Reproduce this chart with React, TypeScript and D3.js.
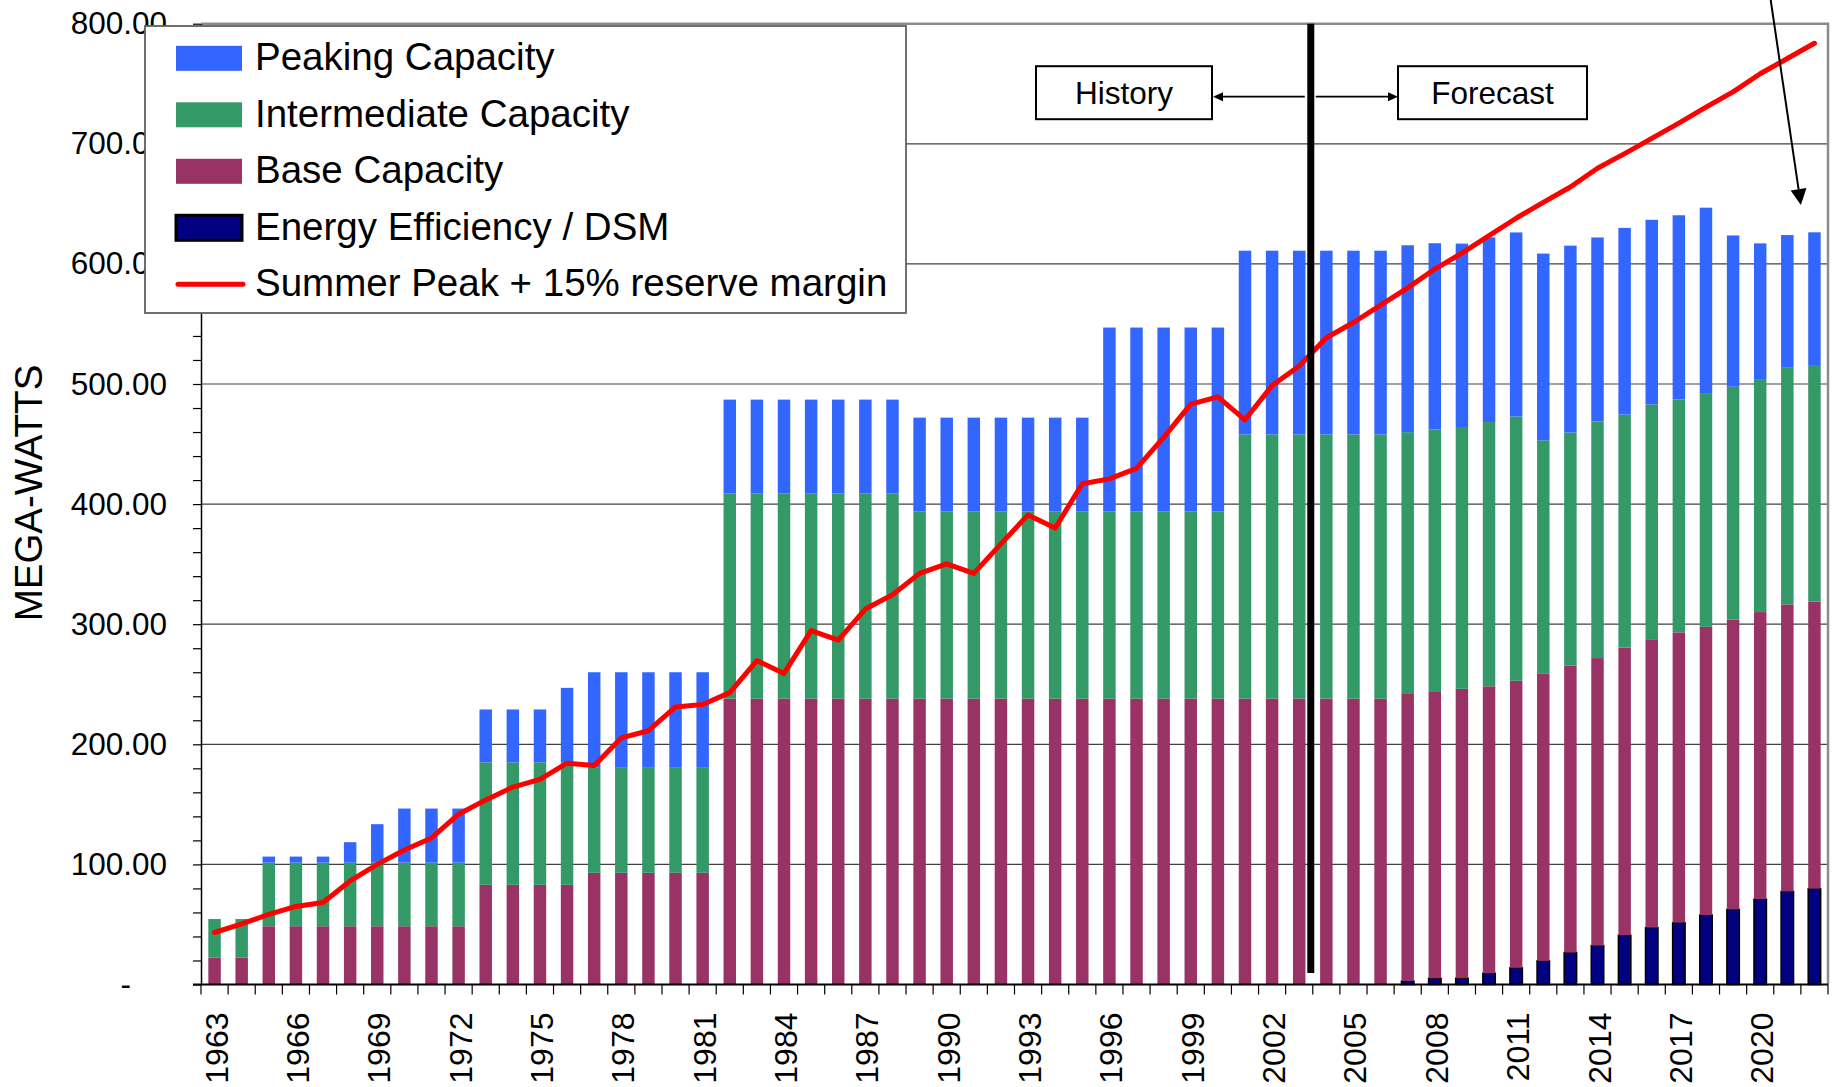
import React, { useEffect, useRef } from 'react';
import * as d3 from 'd3';

// categories
const years = [
  '1963', '1964', '1965', '1966', '1967', '1968', '1969', '1970', '1971', '1972',
  '1973', '1974', '1975', '1976', '1977', '1978', '1979', '1980', '1981', '1982',
  '1983', '1984', '1985', '1986', '1987', '1988', '1989', '1990', '1991', '1992',
  '1993', '1994', '1995', '1996', '1997', '1998', '1999', '2000', '2001', '2002',
  '2003', '2004', '2005', '2006', '2007', '2008', '2009', '2010', '2011', '2012',
  '2013', '2014', '2015', '2016', '2017', '2018', '2019', '2020', '2021', '2022'
];

// stacked segments, MW (bottom to top)
const dsm = [
  0, 0, 0, 0, 0, 0, 0, 0, 0, 0,
  0, 0, 0, 0, 0, 0, 0, 0, 0, 0,
  0, 0, 0, 0, 0, 0, 0, 0, 0, 0,
  0, 0, 0, 0, 0, 0, 0, 0, 0, 0,
  0, 0, 0, 0, 2.9, 5.2, 5.2, 9.3, 13.9, 19.7,
  26.6, 32.4, 41, 47.4, 51.5, 57.8, 62.5, 71.1, 77.5, 79.8
];
const base = [
  22.5, 22.5, 48.5, 48.5, 48.5, 48.5, 48.5, 48.5, 48.5, 48.5,
  83, 83, 83, 83, 93, 93, 93, 93, 93, 238,
  238, 238, 238, 238, 238, 238, 238, 238, 238, 238,
  238, 238, 238, 238, 238, 238, 238, 238, 238, 238,
  238, 238, 238, 238, 239, 239, 241, 239, 239, 239.4,
  239, 239.4, 239.5, 239.5, 241.7, 240, 241.2, 239, 239, 239
];
const intermediate = [
  32, 32, 53, 53, 53, 53, 53, 53, 53, 53,
  102, 102, 102, 102, 88, 88, 88, 88, 88, 171,
  171, 171, 171, 171, 171, 171, 156, 156, 156, 156,
  156, 156, 156, 156, 156, 156, 156, 156, 220, 220,
  220, 220, 220, 220, 218, 218, 218, 220, 220, 194,
  194, 197, 194, 196, 194, 194, 194, 194, 197, 197
];
const peaking = [
  0, 0, 5, 5, 5, 17, 32, 45, 45, 45,
  44, 44, 44, 62, 79, 79, 79, 79, 79, 78,
  78, 78, 78, 78, 78, 78, 78, 78, 78, 78,
  78, 78, 78, 153, 153, 153, 153, 153, 153, 153,
  153, 153, 153, 153, 155.6, 155, 152.7, 153.8, 153.3, 155.5,
  155.6, 153.2, 155.5, 153.8, 153.3, 155, 126, 113, 110.5, 110.5
];
// Summer Peak + 15% reserve margin
const summerPeak = [
  43.3, 50.4, 58.4, 65, 68.3, 86.2, 100, 112, 122, 141.8,
  153.7, 164.4, 170.8, 184.3, 182.3, 205.3, 211.3, 231.1, 233.1, 243,
  269.7, 259, 294.7, 286.8, 312.6, 324.5, 342.3, 350.3, 342.3, 366.9,
  391, 380, 417, 421, 429.7, 455.5, 483.3, 489.3, 470.2, 498.7,
  515, 538.5, 551.2, 565.6, 580, 595.7, 609, 623.5, 638, 651.3,
  664, 679.6, 691.8, 704.5, 717.2, 730.5, 743.2, 758.3, 771, 783.7
];

const yMajorTicks = [0, 100, 200, 300, 400, 500, 600, 700, 800];
const xTickLabels = [
  '1963', '1966', '1969', '1972', '1975', '1978', '1981', '1984', '1987', '1990',
  '1993', '1996', '1999', '2002', '2005', '2008', '2011', '2014', '2017', '2020'
];

const seriesNames = ['Peaking Capacity', 'Intermediate Capacity', 'Base Capacity', 'Energy Efficiency / DSM'];
const lineName = 'Summer Peak + 15% reserve margin';
const forecastStart = '2004';

const colors: { [k: string]: string } = {
  peaking: '#3366FF',
  intermediate: '#339966',
  base: '#993366',
  dsm: '#000080',
  line: '#FF0000'
};

const FONT = '"Liberation Sans", Arial, sans-serif';

export default function App() {
  const ref = useRef<SVGSVGElement>(null);

  useEffect(() => {
    const svg = d3.select(ref.current);
    svg.selectAll('*').remove();

    const left = 201, right = 1828, top = 23.7, bottom = 984.5;

    const x = d3.scaleBand<string>().domain(years).range([left, right]).paddingInner(0.54).paddingOuter(0.27);
    const y = d3.scaleLinear().domain([0, 800]).range([bottom, top]);
    const step = x.step();
    const bw = x.bandwidth();

    const rows = years.map((yr, i) => ({
      year: yr, dsm: dsm[i], base: base[i], intermediate: intermediate[i], peaking: peaking[i]
    }));
    const stack = d3.stack<any>().keys(['dsm', 'base', 'intermediate', 'peaking']);
    const layers = stack(rows);

    // gridlines
    svg.append('g')
      .selectAll('line')
      .data(yMajorTicks.filter(d => d > 0 && d < 800))
      .enter().append('line')
      .attr('x1', left).attr('x2', right)
      .attr('y1', d => y(d)).attr('y2', d => y(d))
      .attr('stroke', '#404040')
      .attr('stroke-width', 1.2);

    // bars
    layers.forEach(layer => {
      const key = layer.key;
      svg.append('g')
        .selectAll('rect')
        .data(layer.filter(d => d[1] - d[0] > 0))
        .enter().append('rect')
        .attr('x', d => x(d.data.year) as number)
        .attr('width', bw)
        .attr('y', d => y(d[1]))
        .attr('height', d => y(d[0]) - y(d[1]))
        .attr('fill', colors[key])
        .attr('stroke', key === 'dsm' ? '#000' : 'none')
        .attr('stroke-width', key === 'dsm' ? 1.5 : 0);
    });

    // plot border top / right
    svg.append('path')
      .attr('d', `M${left},${top}H${right}V${bottom}`)
      .attr('fill', 'none')
      .attr('stroke', '#8c8c8c')
      .attr('stroke-width', 2.5);

    // y axis
    const yAxis = d3.axisLeft(y)
      .tickValues(d3.range(0, 801, 20))
      .tickSize(8)
      .tickSizeOuter(0)
      .tickPadding(26)
      .tickFormat((d: any) => (d === 0 ? '-' : d % 100 === 0 ? d3.format('.2f')(d) : ''));
    const gy = svg.append('g').attr('transform', `translate(${left},0)`).call(yAxis as any);
    gy.select('.domain').attr('stroke', '#000').attr('stroke-width', 1.5);
    gy.selectAll('line').attr('stroke', '#000').attr('stroke-width', 1.2);
    gy.selectAll('text')
      .attr('font-family', FONT)
      .attr('font-size', 31.5)
      .attr('fill', '#000')
      .attr('x', (d: any) => (d === 0 ? -70 : -34));

    // x axis
    svg.append('line')
      .attr('x1', left - 8).attr('x2', right)
      .attr('y1', bottom).attr('y2', bottom)
      .attr('stroke', '#000').attr('stroke-width', 2);
    svg.append('g')
      .selectAll('line')
      .data(years.concat(['end']))
      .enter().append('line')
      .attr('x1', (d, i) => left + i * step)
      .attr('x2', (d, i) => left + i * step)
      .attr('y1', bottom).attr('y2', bottom + 10)
      .attr('stroke', '#000').attr('stroke-width', 1.2);
    svg.append('g')
      .selectAll('text')
      .data(xTickLabels)
      .enter().append('text')
      .attr('transform', d => `translate(${(x(d) as number) + bw / 2 + 13},${bottom + 28}) rotate(-90)`)
      .attr('text-anchor', 'end')
      .attr('font-family', FONT)
      .attr('font-size', 32)
      .text(d => d);

    // y axis title
    svg.append('text')
      .attr('transform', `translate(42,493) rotate(-90)`)
      .attr('text-anchor', 'middle')
      .attr('font-family', FONT)
      .attr('font-size', 38.5)
      .text('MEGA-WATTS');

    // summer peak line
    const line = d3.line<number>()
      .x((d, i) => (x(years[i]) as number) + bw / 2)
      .y(d => y(d));
    svg.append('path')
      .datum(summerPeak)
      .attr('d', line)
      .attr('fill', 'none')
      .attr('stroke', colors.line)
      .attr('stroke-width', 5)
      .attr('stroke-linejoin', 'round')
      .attr('stroke-linecap', 'round');

    // history / forecast divider
    const vx = left + years.indexOf(forecastStart) * step - 2;
    svg.append('line')
      .attr('x1', vx).attr('x2', vx)
      .attr('y1', top).attr('y2', 973)
      .attr('stroke', '#000').attr('stroke-width', 7);

    const ay = 96.7;
    const boxH = 53;
    const boxes = [
      { label: 'History', x0: 1036, w: 176 },
      { label: 'Forecast', x0: 1398, w: 189 }
    ];
    boxes.forEach(b => {
      svg.append('rect')
        .attr('x', b.x0).attr('y', ay - boxH / 2 - 4)
        .attr('width', b.w).attr('height', boxH)
        .attr('fill', '#fff').attr('stroke', '#000').attr('stroke-width', 2);
      svg.append('text')
        .attr('x', b.x0 + b.w / 2).attr('y', ay + 7)
        .attr('text-anchor', 'middle')
        .attr('font-family', FONT)
        .attr('font-size', 31.5)
        .text(b.label);
    });
    // arrows
    svg.append('line').attr('x1', vx - 6).attr('x2', 1222).attr('y1', ay).attr('y2', ay)
      .attr('stroke', '#000').attr('stroke-width', 1.8);
    svg.append('path').attr('d', `M1213,${ay}L1223,${ay - 4.5}L1223,${ay + 4.5}Z`).attr('fill', '#000');
    svg.append('line').attr('x1', vx + 5).attr('x2', 1389).attr('y1', ay).attr('y2', ay)
      .attr('stroke', '#000').attr('stroke-width', 1.8);
    svg.append('path').attr('d', `M1398,${ay}L1388,${ay - 4.5}L1388,${ay + 4.5}Z`).attr('fill', '#000');

    // top right pointer arrow
    const tipX = left + years.indexOf('2022') * step;
    const tipY = y(649);
    const sx = 1770.7, sy = 0;
    const ang = Math.atan2(tipY - sy, tipX - sx);
    const hl = 16, hw = 8;
    const bx = tipX - hl * Math.cos(ang), by = tipY - hl * Math.sin(ang);
    svg.append('line').attr('x1', sx).attr('y1', sy).attr('x2', bx).attr('y2', by)
      .attr('stroke', '#000').attr('stroke-width', 2);
    svg.append('path')
      .attr('d', `M${tipX},${tipY}L${bx + hw * Math.sin(ang)},${by - hw * Math.cos(ang)}L${bx - hw * Math.sin(ang)},${by + hw * Math.cos(ang)}Z`)
      .attr('fill', '#000');

    // legend
    const lg = svg.append('g');
    lg.append('rect')
      .attr('x', 145).attr('y', 26).attr('width', 761).attr('height', 287)
      .attr('fill', '#fff').attr('stroke', '#606060').attr('stroke-width', 1.8);
    const legendKeys = ['peaking', 'intermediate', 'base', 'dsm'];
    const rowY = (i: number) => 58.3 + i * 56.5;
    legendKeys.forEach((k, i) => {
      lg.append('rect')
        .attr('x', 176).attr('y', rowY(i) - 12.5).attr('width', 66).attr('height', 25)
        .attr('fill', colors[k])
        .attr('stroke', k === 'dsm' ? '#000' : 'none')
        .attr('stroke-width', k === 'dsm' ? 3 : 0);
      lg.append('text')
        .attr('x', 255).attr('y', rowY(i) + 12)
        .attr('font-family', FONT).attr('font-size', 38.5)
        .text(seriesNames[i]);
    });
    lg.append('line')
      .attr('x1', 178).attr('x2', 243).attr('y1', rowY(4)).attr('y2', rowY(4))
      .attr('stroke', colors.line).attr('stroke-width', 5).attr('stroke-linecap', 'round');
    lg.append('text')
      .attr('x', 255).attr('y', rowY(4) + 12)
      .attr('font-family', FONT).attr('font-size', 38.5)
      .text(lineName);
  }, []);

  return (
    <svg
      ref={ref}
      width={1838}
      height={1087}
      style={{ position: 'absolute', left: 0, top: 0, background: '#fff' }}
    />
  );
}
